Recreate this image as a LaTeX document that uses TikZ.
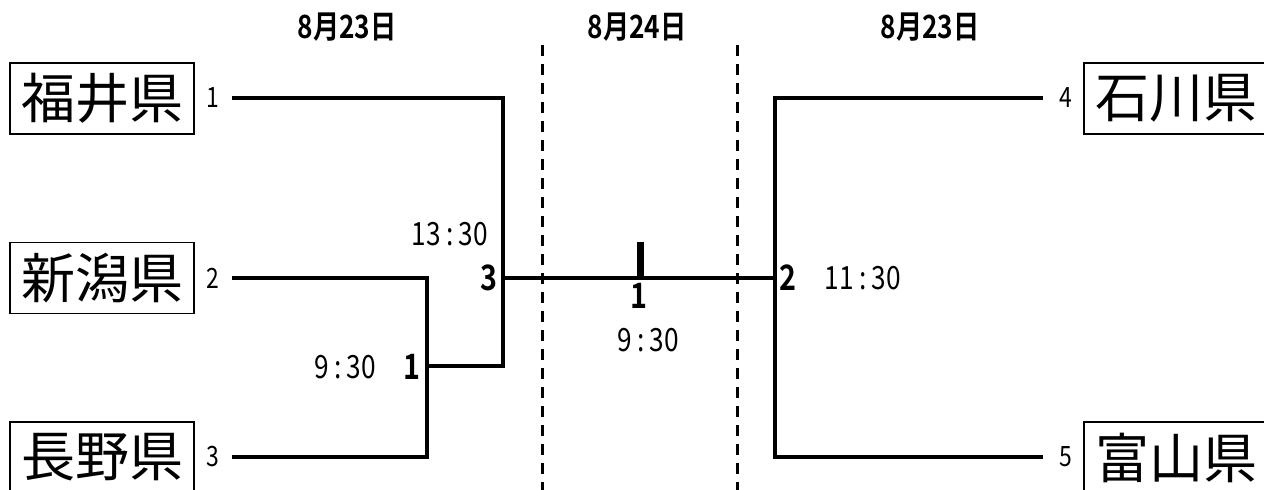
\documentclass[tikz,border=0pt]{standalone}
\usepackage{fontspec}
\setmainfont{Noto Sans CJK JP}[BoldFont={Noto Sans CJK JP Bold}]
\newfontfamily\narrow{Noto Sans CJK JP}[FakeStretch=0.82,BoldFont={Noto Sans CJK JP Bold}]
\tikzset{
  team/.style={draw,line width=1.4pt,minimum width=184pt,minimum height=71pt,inner sep=0pt,font=\fontsize{54}{54}\selectfont},
  seed/.style={inner sep=0pt,font=\narrow\fontsize{28}{28}\selectfont},
  score/.style={inner sep=0pt,font=\narrow\bfseries\fontsize{35}{35}\selectfont},
  time/.style={inner sep=0pt,font=\narrow\fontsize{32}{32}\selectfont},
  date/.style={inner sep=0pt,font=\narrow\bfseries\fontsize{32}{32}\selectfont},
  bracket/.style={line width=3.3pt},
  dayline/.style={line width=3pt,dash pattern=on 11pt off 8pt}
}

\begin{document}
\begin{tikzpicture}[x=1pt,y=-1pt]
\useasboundingbox[fill=white] (0,0) rectangle (1264,490);
% teams
\node[team] (fukui) at (102,98.5) {福井県};
\node[team] (niigata) at (102,278) {新潟県};
\node[team] (nagano) at (102,457.5) {長野県};
\node[team] (ishikawa) at (1176,98.5) {石川県};
\node[team] (toyama) at (1176,457.5) {富山県};
\node[seed] (s1) at (213,98) {1};
\node[seed] (s2) at (213,278) {2};
\node[seed] (s3) at (213,457) {3};
\node[seed] (s4) at (1066,98) {4};
\node[seed] (s5) at (1066,457) {5};
% dates
\node[date] (d1) at (347,27) {8月23日};
\node[date] (d2) at (637,27) {8月24日};
\node[date] (d3) at (930,27) {8月23日};
\coordinate (t1) at (542,45);
\coordinate (b1) at (542,490);
\coordinate (t2) at (737,45);
\coordinate (b2) at (737,490);
\draw[dayline] (t1) -- (b1);
\draw[dayline] (t2) -- (b2);
% bracket
\coordinate (l1) at (232,98);
\coordinate (l2) at (232,278);
\coordinate (l3) at (232,457);
\coordinate (q1) at (427,457);
\coordinate (m1) at (427,366);
\coordinate (q3) at (503,366);
\coordinate (m3) at (503,278);
\coordinate (m2) at (775,278);
\coordinate (q2) at (775,457);
\coordinate (r4) at (1043,98);
\coordinate (r5) at (1043,457);
\draw[bracket] (l2) -| (q1) -- (l3);
\draw[bracket] (l1) -| (q3) -- (m1);
\draw[bracket] (r4) -| (q2) -- (r5);
\draw[bracket] (m3) -- (m2);
\node[fill=black,minimum width=7pt,minimum height=34pt,inner sep=0pt] (win) at (640,259) {};
% match numbers and times
\node[score] (n1) at (412,367) {1};
\node[score] (n3) at (489,278) {3};
\node[score] (n2) at (788,278) {2};
\node[score] (n4) at (639,296) {1};
\node[time] (h1) at (345,367) {9\,:\,30};
\node[time] (h3) at (450,234) {13\,:\,30};
\node[time] (h2) at (863,278) {11\,:\,30};
\node[time] (h4) at (648,340) {9\,:\,30};
\end{tikzpicture}
\end{document}
